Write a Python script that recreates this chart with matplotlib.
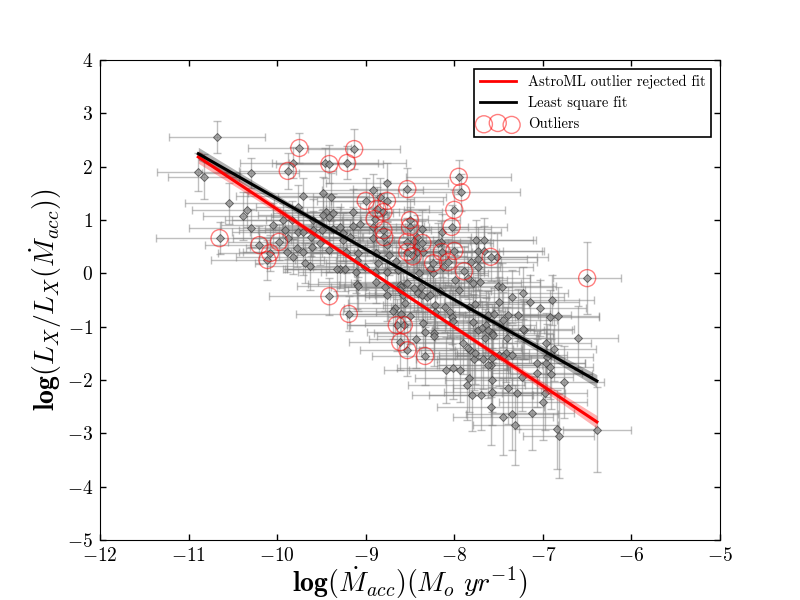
import numpy as np
import matplotlib
matplotlib.use('Agg')
import matplotlib.pyplot as plt
from matplotlib.lines import Line2D

plt.rcParams['font.family'] = 'serif'
plt.rcParams['font.serif'] = ['cmr10', 'DejaVu Serif']
plt.rcParams['mathtext.fontset'] = 'cm'
plt.rcParams['axes.formatter.use_mathtext'] = True

# ---------------- data ----------------
x_reg = [-10.68, -10.89, -10.83, -10.30, -10.54, -10.34, -10.39, -10.30, -10.05, -9.93,
         -9.91, -9.82, -9.71, -9.76, -9.83, -9.76, -9.71, -9.88, -9.78, -9.71,
         -9.89, -9.82, -9.61, -9.62, -9.48, -9.39, -9.45, -9.48, -9.41, -9.49,
         -9.59, -9.41, -9.69, -9.63, -9.46, -9.37, -9.59, -9.37, -9.52, -9.29,
         -9.26, -9.18, -9.14, -9.14, -9.07, -8.92, -8.76, -8.84, -8.92, -9.09,
         -9.29, -9.23, -9.10, -8.88, -8.86, -8.88, -8.76, -8.74, -8.36, -8.42,
         -8.14, -8.15, -8.40, -8.41, -8.61, -8.58, -8.56, -8.67, -8.50, -8.35,
         -8.22, -8.05, -7.95, -7.79, -7.71, -7.77, -7.62, -7.85, -7.76, -7.66,
         -7.73, -7.79, -7.55, -8.76, -8.64, -7.66, -7.73, -7.73, -7.81, -7.52,
         -8.60, -8.31, -8.69, -8.60, -8.33, -8.43, -8.23, -8.11, -8.03, -7.83,
         -7.73, -7.64, -7.57, -7.90, -7.82, -7.78, -7.68, -7.57, -7.50, -7.42,
         -7.35, -7.59, -8.09, -8.01, -7.94, -7.83, -7.86, -7.57, -7.80, -7.70,
         -7.57, -7.39, -7.59, -7.45, -7.35, -7.31, -7.51, -7.35, -7.50, -7.39,
         -7.28, -7.21, -7.46, -7.22, -7.15, -7.03, -6.90, -6.92, -6.83, -7.45,
         -7.22, -7.41, -6.60, -6.96, -6.87, -6.95, -6.96, -6.92, -6.91, -7.07,
         -7.07, -7.24, -6.76, -7.29, -6.98, -7.00, -7.12, -6.84, -6.82, -6.39,
         -8.24, -7.99, -8.22, -8.01, -7.69, -7.62, -7.65, -7.56, -8.23, -7.84,
         -7.77, -7.45, -7.62, -9.26, -9.22, -9.10, -9.01, -8.92, -9.32, -9.11,
         -8.90, -8.66, -8.45, -8.43, -8.42, -8.35, -8.18, -8.27, -8.13, -9.09,
         -8.78, -8.76, -8.53, -8.61, -8.45, -8.38, -8.16, -8.27, -8.36]
y_reg = [2.56, 1.90, 1.81, 1.88, 1.31, 1.19, 1.07, 0.85, 0.91, 1.00,
         0.81, 2.07, 1.45, 1.24, 1.00, 0.78, 0.78, 0.66, 0.47, 0.40,
         0.40, 0.31, 0.49, 0.68, 1.51, 1.43, 1.15, 1.09, 1.05, 0.81,
         0.81, 0.44, 0.19, 0.13, 2.07, 1.13, 1.00, 0.84, 0.57, 0.87,
         0.62, 0.68, 1.15, 0.89, 0.92, 1.56, 1.69, 1.43, 0.66, 0.38,
         0.09, 0.08, -0.20, -0.17, 0.19, 0.38, 0.53, 0.34, 0.83, 0.68,
         0.77, 0.59, 0.00, -0.37, -0.22, -0.41, -0.56, -0.65, -0.80, -0.93,
         -0.60, -0.73, -0.32, -0.19, -0.17, -0.58, -0.78, -0.09, 0.62, 0.62,
         0.42, -0.91, -0.76, 0.02, 0.06, 0.42, 0.27, 0.12, 0.21, 0.31,
         -0.26, -0.44, -0.71, -0.76, -1.10, -1.23, -1.12, -0.63, -0.82, -0.63,
         -1.06, -0.97, -1.12, -1.31, -1.44, -1.61, -1.61, -1.59, -1.53, -1.49,
         -1.53, -1.72, -1.81, -1.78, -1.81, -1.96, -2.09, -2.00, -2.28, -2.28,
         -2.22, -2.15, -2.51, -2.69, -2.64, -2.84, -0.24, -0.44, -0.54, -0.78,
         -0.78, -1.06, -0.26, -0.37, -0.54, -0.65, -0.50, -0.82, -0.80, -0.87,
         -1.04, -1.21, -1.21, -1.31, -1.42, -1.57, -1.68, -1.75, -1.89, -1.68,
         -1.87, -1.94, -2.04, -2.24, -2.24, -2.41, -2.62, -2.92, -3.05, -2.93,
         0.01, -0.13, -0.73, -0.89, -1.03, -1.06, -1.21, -1.16, -1.18, -1.40,
         -1.50, -1.55, -1.72, 0.76, 0.40, 0.25, 0.12, 0.87, 0.08, 0.02,
         0.02, 0.23, 0.61, 0.49, 0.40, 0.40, 0.57, 0.09, 0.12, -0.24,
         -0.26, -0.41, -0.18, -0.31, -0.28, -0.26, -0.33, -0.41, -0.41]
xerr_reg = [0.54, 0.47, 0.40, 0.55, 0.50, 0.62, 0.45, 0.70, 0.58, 0.66,
            0.52, 0.60, 0.75, 0.48, 0.68, 0.55, 0.80, 0.62, 0.57, 0.72,
            0.50, 0.64, 0.70, 0.58, 0.85, 0.60, 0.52, 0.74, 0.66, 0.59,
            0.63, 0.71, 0.56, 0.49, 0.60, 0.68, 0.54, 0.77, 0.61, 0.73,
            0.58, 0.66, 0.52, 0.80, 0.64, 0.57, 0.69, 0.75, 0.60, 0.53,
            0.62, 0.70, 0.55, 0.66, 0.59, 0.72, 0.64, 0.58, 0.78, 0.61,
            0.67, 0.55, 0.73, 0.60, 0.69, 0.52, 0.64, 0.58, 0.71, 0.66,
            0.59, 0.62, 0.75, 0.54, 0.68, 0.61, 0.57, 0.70, 0.65, 0.58,
            0.72, 0.56, 0.63, 0.69, 0.60, 0.67, 0.55, 0.62, 0.74, 0.58,
            0.64, 0.70, 0.57, 0.61, 0.66, 0.53, 0.68, 0.60, 0.72, 0.59,
            0.63, 0.56, 0.69, 0.61, 0.58, 0.65, 0.52, 0.60, 0.67, 0.55,
            0.62, 0.58, 0.70, 0.64, 0.57, 0.61, 0.66, 0.53, 0.68, 0.59,
            0.55, 0.63, 0.60, 0.57, 0.52, 0.48, 0.66, 0.59, 0.62, 0.56,
            0.60, 0.54, 0.58, 0.50, 0.56, 0.52, 0.48, 0.55, 0.46, 0.61,
            0.57, 0.53, 0.45, 0.50, 0.47, 0.52, 0.44, 0.49, 0.46, 0.55,
            0.51, 0.58, 0.45, 0.54, 0.48, 0.50, 0.47, 0.43, 0.40, 0.38,
            0.62, 0.58, 0.66, 0.60, 0.55, 0.63, 0.57, 0.52, 0.64, 0.59,
            0.61, 0.54, 0.58, 0.68, 0.62, 0.70, 0.59, 0.64, 0.57, 0.66,
            0.60, 0.67, 0.63, 0.58, 0.71, 0.55, 0.62, 0.60, 0.65, 0.69,
            0.61, 0.57, 0.64, 0.59, 0.66, 0.62, 0.58, 0.63, 0.60]
yerr_reg = [0.30, 0.35, 0.42, 0.28, 0.38, 0.33, 0.45, 0.36, 0.40, 0.31,
            0.37, 0.29, 0.34, 0.41, 0.36, 0.44, 0.32, 0.39, 0.35, 0.43,
            0.38, 0.33, 0.40, 0.36, 0.30, 0.45, 0.34, 0.39, 0.42, 0.37,
            0.35, 0.41, 0.38, 0.44, 0.28, 0.36, 0.40, 0.33, 0.42, 0.37,
            0.39, 0.34, 0.43, 0.36, 0.40, 0.31, 0.38, 0.35, 0.41, 0.44,
            0.37, 0.42, 0.46, 0.39, 0.35, 0.40, 0.43, 0.38, 0.36, 0.41,
            0.34, 0.39, 0.45, 0.48, 0.42, 0.50, 0.44, 0.47, 0.52, 0.46,
            0.43, 0.49, 0.45, 0.41, 0.47, 0.51, 0.44, 0.40, 0.38, 0.42,
            0.45, 0.53, 0.48, 0.40, 0.43, 0.46, 0.42, 0.44, 0.47, 0.45,
            0.46, 0.49, 0.52, 0.55, 0.50, 0.54, 0.48, 0.47, 0.51, 0.49,
            0.53, 0.50, 0.55, 0.57, 0.52, 0.58, 0.56, 0.54, 0.59, 0.55,
            0.57, 0.60, 0.62, 0.58, 0.61, 0.64, 0.66, 0.60, 0.68, 0.65,
            0.63, 0.67, 0.70, 0.72, 0.68, 0.75, 0.44, 0.50, 0.47, 0.52,
            0.49, 0.55, 0.45, 0.48, 0.51, 0.53, 0.46, 0.50, 0.54, 0.52,
            0.56, 0.58, 0.60, 0.57, 0.59, 0.62, 0.64, 0.61, 0.66, 0.60,
            0.63, 0.65, 0.68, 0.67, 0.70, 0.72, 0.69, 0.74, 0.78, 0.80,
            0.44, 0.47, 0.50, 0.53, 0.51, 0.49, 0.55, 0.52, 0.56, 0.58,
            0.57, 0.60, 0.62, 0.37, 0.40, 0.38, 0.42, 0.36, 0.41, 0.39,
            0.43, 0.40, 0.37, 0.41, 0.39, 0.42, 0.38, 0.44, 0.40, 0.46,
            0.45, 0.48, 0.43, 0.47, 0.44, 0.46, 0.49, 0.45, 0.47]

x_out = [-10.65, -9.75, -9.88, -9.41, -9.21, -9.13, -10.20, -9.98, -10.11, -10.08,
         -9.41, -8.53, -9.00, -8.76, -8.87, -8.80, -8.90, -8.80, -8.79, -8.50,
         -8.50, -8.53, -8.36, -8.53, -8.47, -8.24, -8.14, -8.07, -8.00, -7.89,
         -7.95, -7.92, -8.00, -8.03, -7.59, -9.19, -8.65, -8.57, -8.61, -8.53,
         -8.33, -6.50]
y_out = [0.66, 2.35, 1.92, 2.05, 2.07, 2.33, 0.53, 0.59, 0.25, 0.38,
         -0.43, 1.58, 1.36, 1.36, 1.21, 1.15, 1.02, 0.81, 0.68, 1.00,
         0.87, 0.59, 0.57, 0.40, 0.32, 0.19, 0.40, 0.21, 0.42, 0.04,
         1.81, 1.52, 1.19, 0.87, 0.31, -0.76, -0.97, -0.97, -1.29, -1.44,
         -1.55, -0.09]
xerr_out = [0.72, 0.58, 0.55, 0.60, 0.66, 0.52, 0.62, 0.57, 0.64, 0.59,
            0.68, 0.61, 0.55, 0.63, 0.58, 0.66, 0.60, 0.54, 0.62, 0.57,
            0.65, 0.59, 0.63, 0.56, 0.61, 0.58, 0.64, 0.60, 0.55, 0.62,
            0.59, 0.66, 0.57, 0.63, 0.52, 0.60, 0.56, 0.61, 0.58, 0.54,
            0.60, 0.38]
yerr_out = [0.30, 0.28, 0.33, 0.35, 0.31, 0.37, 0.36, 0.34, 0.38, 0.33,
            0.35, 0.40, 0.42, 0.38, 0.41, 0.36, 0.44, 0.39, 0.43, 0.40,
            0.37, 0.45, 0.42, 0.39, 0.44, 0.41, 0.46, 0.43, 0.40, 0.47,
            0.32, 0.35, 0.38, 0.41, 0.45, 0.33, 0.48, 0.50, 0.52, 0.49,
            0.55, 0.67]

# fit parameters (y = slope * x + intercept)
ls_slope, ls_intercept = -0.947, -8.07      # least square fit
rob_slope, rob_intercept = -1.104, -9.84    # AstroML outlier rejected fit
band_center, band_edge = 0.035, 0.12        # half-width of confidence band

# ---------------- figure ----------------
fig = plt.figure(figsize=(8, 6), dpi=100)
ax = fig.add_axes([0.125, 0.1, 0.775, 0.8])

x_all = np.array(x_reg + x_out)
y_all = np.array(y_reg + y_out)
xe_all = np.array(xerr_reg + xerr_out)
ye_all = np.array(yerr_reg + yerr_out)

ax.errorbar(x_all, y_all, xerr=xe_all, yerr=ye_all, fmt='none',
            ecolor='gray', alpha=0.5, elinewidth=1, capsize=3, capthick=1, zorder=1)
ax.plot(x_all, y_all, 'D', ms=4, mfc='#8a8a8a', mec='#3a3a3a', mew=0.7,
        alpha=0.7, zorder=2)

xf = np.linspace(x_all.min(), x_all.max(), 200)
xm = 0.5 * (xf[0] + xf[-1])
half = 0.5 * (xf[-1] - xf[0])
hw = band_center + (band_edge - band_center) * ((xf - xm) / half) ** 2

y_rob = rob_slope * xf + rob_intercept
y_ls = ls_slope * xf + ls_intercept
ax.fill_between(xf, y_rob - hw, y_rob + hw, color='red', alpha=0.3, lw=0, zorder=3)
ax.fill_between(xf, y_ls - hw, y_ls + hw, color='black', alpha=0.3, lw=0, zorder=3)
ax.plot(xf, y_rob, color='red', lw=2.2, zorder=4)
ax.plot(xf, y_ls, color='black', lw=2.2, zorder=4)

ax.scatter(x_out, y_out, s=150, facecolors='none', edgecolors='red',
           linewidths=1, alpha=0.5, zorder=5)

ax.set_xlim(-12, -5)
ax.set_ylim(-5, 4)
ax.set_xticks(np.arange(-12, -4, 1))
ax.set_yticks(np.arange(-5, 5, 1))
ax.tick_params(direction='in', top=True, right=True, length=4.5, width=1,
               labelsize=14, pad=5)
ax.tick_params(which='minor', length=0)

ax.set_xlabel(r'$\mathbf{log}(\dot{M}_{acc})(M_o\ yr^{-1})$', fontsize=20,
              labelpad=0)
ax.set_ylabel(r'$\mathbf{log}(L_X/L_X(\dot{M}_{acc}))$', fontsize=20,
              labelpad=2)

h1 = Line2D([], [], color='red', lw=2)
h2 = Line2D([], [], color='black', lw=2)
h3 = ax.scatter([], [], s=150, facecolors='none', edgecolors='red',
                linewidths=1, alpha=0.5)
leg = ax.legend([h1, h2, h3],
                ['AstroML outlier rejected fit', 'Least square fit', 'Outliers'],
                loc='upper right', fontsize=10.5, scatterpoints=3,
                fancybox=False, framealpha=1, edgecolor='black',
                borderaxespad=0.6, handlelength=2.5)
leg.get_frame().set_linewidth(1.2)

fig.savefig('out.png', dpi=100)
